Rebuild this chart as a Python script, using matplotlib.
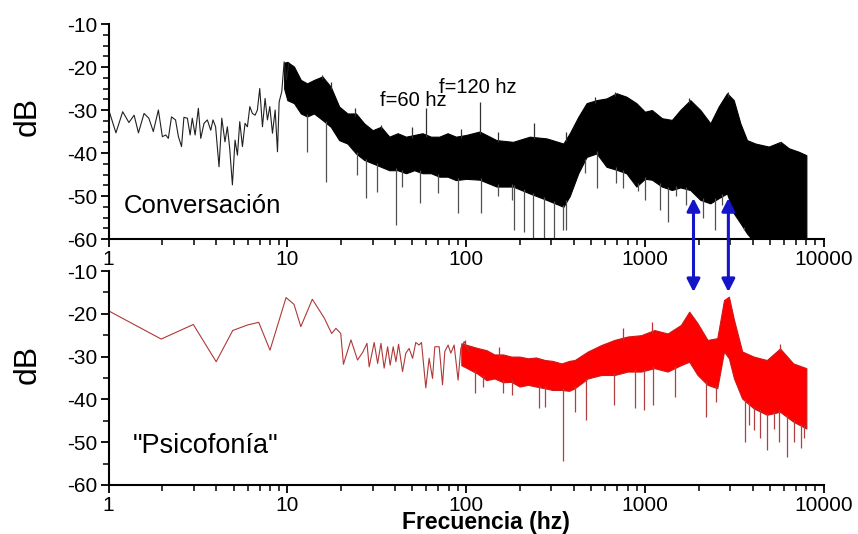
import matplotlib
matplotlib.use('Agg')
import matplotlib.pyplot as plt
import numpy as np
from matplotlib.ticker import MultipleLocator, NullFormatter, LogLocator
from matplotlib.patches import ArrowStyle

plt.rcParams['font.family'] = ['Liberation Sans', 'DejaVu Sans']
plt.rcParams['axes.unicode_minus'] = False

# ---------------- data ----------------
xtick_vals = [1, 10, 100, 1000, 10000]
xtick_labels = ['1', '10', '100', '1000', '10000']
ytick_vals = [-60, -50, -40, -30, -20, -10]
ytick_labels = ['-60', '-50', '-40', '-30', '-20', '-10']

# Top panel "Conversación": sparse low-frequency part
conv_f = [1.01, 1.10, 1.20, 1.30, 1.39, 1.47, 1.58, 1.68, 1.78, 1.90, 2.00, 2.09, 2.16,
          2.25, 2.37, 2.46, 2.56, 2.64, 2.76, 2.86, 2.94, 3.05, 3.18, 3.28, 3.42, 3.57,
          3.73, 3.84, 3.97, 4.15, 4.30, 4.48, 4.62, 4.76, 4.93, 5.10, 5.26, 5.42, 5.61,
          5.80, 5.98, 6.17, 6.38, 6.60, 6.80, 7.01, 7.26, 7.51, 7.74, 7.98, 8.26, 8.55,
          8.81, 9.00, 9.31, 9.60, 9.89, 10.2]
conv_db = [-30.4, -35.3, -30.4, -32.9, -31.2, -35.3, -30.8, -31.9, -35.0, -30.0, -36.2,
           -35.8, -36.6, -31.6, -32.3, -36.2, -38.5, -31.7, -31.9, -35.8, -31.9, -35.8,
           -29.6, -36.6, -33.1, -32.3, -34.7, -32.3, -33.9, -43.2, -31.9, -37.4, -33.9,
           -38.9, -47.4, -37.0, -40.5, -32.7, -38.5, -33.1, -33.9, -29.2, -30.8, -31.2,
           -30.0, -25.0, -33.9, -27.3, -32.3, -29.2, -35.4, -30.0, -39.7, -28.1, -25.7,
           -18.8, -23.0, -19.1]

# Top panel dense part: upper / lower edge of the dark band
conv_band_f = [9.6, 10, 10.9, 11.9, 12.9, 14.1, 15.7, 17.5, 19.5, 21.7, 24.2, 26.9, 30,
               33.4, 37.2, 41.4, 46.1, 51.3, 57, 63.6, 70.8, 78.8, 87.7, 100, 119, 148,
               183, 227, 282, 350, 380, 424, 472, 537, 610, 694, 788, 896, 1000, 1094,
               1245, 1416, 1577, 1794, 2042, 2323, 2586, 2880, 3140, 3420, 3725, 4150,
               4930, 5740, 6390, 7250, 8000]
conv_band_hi = [-19.0, -18.8, -19.9, -23.0, -23.8, -23.0, -22.2, -24.6, -29.2, -30.8,
                -30.8, -33.1, -34.7, -33.9, -36.2, -35.4, -36.2, -35.8, -35.4, -36.2,
                -36.2, -35.4, -36.2, -35.8, -35.0, -37.0, -37.4, -36.2, -36.6, -37.8,
                -35.4, -31.6, -28.4, -27.7, -27.3, -26.1, -26.9, -28.4, -30.4, -30.0,
                -31.9, -32.3, -30.0, -27.7, -30.0, -33.1, -29.2, -26.1, -27.7, -33.1,
                -37.0, -37.8, -38.5, -37.4, -38.9, -39.7, -40.5]
conv_band_lo = [-25.0, -27.7, -28.4, -30.8, -31.5, -30.8, -32.3, -33.9, -37.0, -37.8,
                -40.1, -41.6, -42.4, -43.2, -44.0, -44.0, -44.7, -44.0, -44.7, -44.7,
                -45.5, -45.5, -46.3, -46.0, -46.2, -47.8, -47.8, -49.4, -50.9, -52.5,
                -50.0, -44.7, -40.9, -40.1, -43.2, -43.9, -44.7, -47.8, -46.0, -46.2,
                -47.8, -48.6, -48.0, -48.6, -50.9, -51.7, -50.5, -49.4, -54.0, -56.3,
                -58.7, -61.0, -61.0, -61.0, -61.0, -61.0, -61.0]
# downward spikes below the band
conv_spk_f = [12.9, 16.5, 24.5, 27.7, 31.7, 40.5, 44, 55.4, 69.4, 90.6, 121, 150, 180,
              185, 212, 238, 274, 309, 350, 363, 460, 537, 687, 750, 910, 1000, 1211,
              1349, 1500, 1700, 2100, 2461, 2700, 3594]
conv_spk_db = [-39.7, -46.7, -45.0, -50.5, -49.0, -56.7, -48.0, -51.7, -49.4, -54.0,
               -54.0, -50.0, -51.0, -57.9, -58.3, -60.0, -60.0, -60.0, -57.9, -57.9,
               -44.7, -48.2, -47.0, -48.2, -48.9, -51.0, -53.3, -56.0, -50.0, -52.0,
               -55.0, -57.9, -52.0, -57.9]
# upward lines above the band (mains hum and the highest tips)
conv_up_f = [15.7, 17.5, 23.9, 33.4, 50, 60, 94, 120, 151, 241, 363, 524, 678, 1775,
             2924, 5670]
conv_up_db = [-21.9, -23.4, -29.6, -33.5, -33.9, -29.6, -34.3, -28.1, -35.0, -33.1,
              -35.0, -26.9, -25.7, -27.3, -25.7, -37.4]

# Bottom panel "Psicofonía": sparse part
psi_f = [1.0, 1.97, 2.98, 4.0, 4.95, 6.0, 6.92, 8.0, 9.84, 10.9, 11.9, 13.8, 16.1, 17.7,
         18.7, 19.9, 20.6, 22.7, 24.7, 26.4, 27.9, 28.7, 30.6, 32.0, 33.4, 34.8, 36.4,
         37.6, 39.1, 40.5, 41.9, 44.1, 46.0, 48.0, 50.2, 52.3, 54.6, 56.3, 59.5, 62.1,
         64.9, 66.8, 70.7, 73.8, 76.0, 79.3, 82.1, 85.7, 90.2, 93.4, 97.5, 104]
psi_db = [-19.3, -25.9, -22.5, -31.2, -23.9, -22.6, -22.0, -28.5, -16.2, -17.8, -23.0,
          -16.6, -21.0, -24.6, -23.4, -24.6, -31.8, -26.1, -30.8, -29.0, -26.9, -32.4,
          -26.7, -31.6, -26.9, -32.7, -27.7, -32.0, -27.7, -31.2, -27.1, -33.5, -29.2,
          -28.1, -30.4, -26.7, -27.3, -26.7, -37.3, -30.4, -35.1, -27.7, -27.7, -36.6,
          -28.8, -27.3, -29.2, -27.3, -35.5, -28.1, -26.5, -28.8]

psi_band_f = [94, 116, 130, 144, 161, 179, 199, 222, 246, 276, 304, 342, 377, 405, 480,
              570, 676, 802, 952, 1130, 1340, 1590, 1770, 1970, 2240, 2540, 2770, 2950,
              3150, 3500, 4060, 4810, 5700, 6760, 8000]
psi_band_hi = [-26.9, -28.0, -28.5, -29.5, -29.5, -30.0, -30.0, -30.4, -30.2, -30.8,
               -31.0, -31.6, -31.0, -30.8, -28.8, -27.3, -26.1, -25.3, -25.0, -23.8,
               -24.6, -22.6, -19.5, -22.2, -26.1, -25.7, -16.8, -16.0, -21.4, -28.8,
               -30.0, -30.8, -28.1, -31.6, -32.7]
psi_band_lo = [-32.0, -34.0, -35.5, -35.1, -36.0, -35.9, -37.0, -36.6, -37.0, -37.4,
               -37.8, -37.8, -38.0, -37.4, -35.1, -34.3, -34.3, -33.5, -33.5, -32.7,
               -33.5, -32.0, -31.2, -34.3, -36.6, -37.4, -28.8, -30.4, -35.1, -39.8,
               -42.1, -43.6, -42.9, -45.2, -46.8]
psi_spk_f = [112, 124, 161, 181, 256, 278, 347, 405, 468, 670, 875, 986, 1110, 1470, 2190,
             2500, 3620, 3800, 4100, 4400, 4850, 5300, 5600, 6220, 6800, 7470, 7800]
psi_spk_db = [-38.6, -37.0, -38.6, -39.0, -42.0, -41.7, -54.5, -42.9, -44.8, -41.3,
              -42.1, -42.5, -41.3, -39.4, -44.0, -40.5, -49.9, -46.0, -47.1, -49.0,
              -51.8, -47.0, -50.0, -53.4, -50.0, -51.4, -49.0]
psi_up_f = [98, 153, 750, 1090, 5700]
psi_up_db = [-26.1, -27.8, -23.4, -21.8, -27.0]

# formant arrows (frequency, dB tip in top panel, dB tip in bottom panel)
arrow_f = [1870, 2930]
arrow_top_db = -50.5
arrow_bot_db = -14.9

# ---------------- figure ----------------
fig = plt.figure(figsize=(8.58, 5.34), dpi=100)
ax1 = fig.add_axes([0.1265, 0.5524, 0.8335, 0.4026])
ax2 = fig.add_axes([0.1265, 0.0918, 0.8335, 0.4007])

for ax, ystep in ((ax1, 2.5), (ax2, 5)):
    ax.set_xscale('log')
    ax.set_xlim(1, 10000)
    ax.set_ylim(-60, -10)
    ax.spines['top'].set_visible(False)
    ax.spines['right'].set_visible(False)
    for s in ('left', 'bottom'):
        ax.spines[s].set_linewidth(1.5)
    ax.set_xticks(xtick_vals, xtick_labels)
    ax.xaxis.set_minor_locator(LogLocator(base=10, subs=np.arange(2, 10)))
    ax.xaxis.set_minor_formatter(NullFormatter())
    ax.set_yticks(ytick_vals, ytick_labels)
    ax.yaxis.set_minor_locator(MultipleLocator(ystep))
    ax.tick_params(which='major', direction='out', length=6, width=1.3,
                   labelsize=15, pad=2)
    ax.tick_params(which='minor', direction='out', length=4, width=1.1)
    ax.set_facecolor('none')


def env_at(f, bf, vals):
    return np.interp(np.log10(f), np.log10(bf), vals)

# top panel
ax1.plot(conv_f, conv_db, color='#202020', lw=0.8)
ax1.vlines(conv_spk_f, conv_spk_db, env_at(conv_spk_f, conv_band_f, conv_band_lo) + 0.5,
           color='#505050', lw=0.9)
ax1.vlines(conv_up_f, env_at(conv_up_f, conv_band_f, conv_band_hi) - 0.5, conv_up_db,
           color='#303030', lw=0.9)
ax1.fill_between(conv_band_f, conv_band_lo, conv_band_hi, color='black', lw=0.8,
                 edgecolor='black')

# bottom panel
ax2.plot(psi_f, psi_db, color='#b03838', lw=0.8)
ax2.vlines(psi_spk_f, psi_spk_db, env_at(psi_spk_f, psi_band_f, psi_band_lo) + 0.5,
           color='#b04040', lw=0.9)
ax2.vlines(psi_up_f, env_at(psi_up_f, psi_band_f, psi_band_hi) - 0.5, psi_up_db,
           color='#c03030', lw=0.9)
ax2.fill_between(psi_band_f, psi_band_lo, psi_band_hi, color='#ff0000', lw=0.8,
                 edgecolor='#d01818')

# labels
ax1.text(1.21, -54, 'Conversación', fontsize=18.5, va='baseline', ha='left')
ax1.text(33, -29.1, 'f=60 hz', fontsize=14.5, va='baseline', ha='left')
ax1.text(70.6, -26.0, 'f=120 hz', fontsize=14.5, va='baseline', ha='left')
ax2.text(1.36, -52.5, '"Psicofonía"', fontsize=19.5, va='baseline', ha='left')
fig.text(0.566, 0.009, 'Frecuencia (hz)', fontsize=16.5, ha='center', va='baseline',
         weight='bold')
fig.text(28 / 858, 1 - 116 / 534, 'dB', fontsize=23, rotation=90, ha='center', va='center')
fig.text(28 / 858, 1 - 364 / 534, 'dB', fontsize=23, rotation=90, ha='center', va='center')

astyle = ArrowStyle('<|-|>', head_length=0.55, head_width=0.28)
for f in arrow_f:
    ax2.annotate('', xy=(f, arrow_bot_db), xycoords='data',
                 xytext=(f, arrow_top_db), textcoords=ax1.transData,
                 arrowprops=dict(arrowstyle=astyle, color='#1414c8', lw=2.2,
                                 mutation_scale=14, shrinkA=0, shrinkB=0),
                 annotation_clip=False, zorder=10)

fig.savefig('out.png', dpi=100)
